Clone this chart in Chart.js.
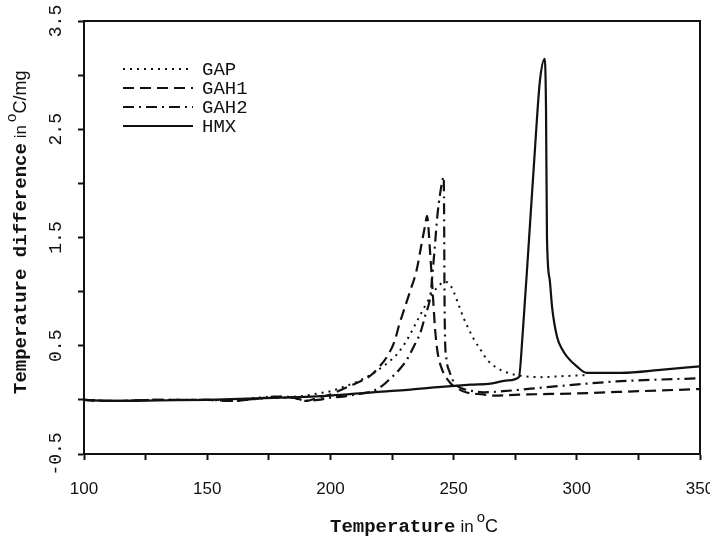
<!DOCTYPE html>
<html>
<head>
<meta charset="utf-8">
<script src="https://cdn.jsdelivr.net/npm/chart.js@4"></script>
<style>
  html, body { margin: 0; padding: 0; background: #fff; }
  #wrap { width: 710px; height: 539px; }
</style>
</head>
<body>
<div id="wrap"><canvas id="dtaChart" width="710" height="539"></canvas></div>
<script>
// DTA curves (x = temperature in C, y = temperature difference in C/mg)
var gapX = [100, 112, 130, 150, 160, 170, 178, 185, 190, 195, 200, 204, 210, 217, 222, 227, 231, 235, 238, 240.5, 243, 246.5, 248, 250, 252, 254, 256, 258, 261, 264, 268, 272, 278, 285, 295, 305];
var gapY = [0, -0.01, 0, 0, 0, 0.02, 0.03, 0.03, 0.04, 0.06, 0.08, 0.11, 0.16, 0.24, 0.32, 0.42, 0.55, 0.72, 0.85, 0.95, 1.03, 1.09, 1.08, 1.0, 0.88, 0.76, 0.66, 0.57, 0.46, 0.36, 0.29, 0.25, 0.22, 0.21, 0.22, 0.23];

var gah1X = [100, 112, 130, 150, 160, 170, 178, 185, 190, 195, 200, 204, 208, 212, 216, 220, 223, 226, 228, 230, 232.3, 235, 237, 238.5, 239.2, 240.5, 241.5, 242.5, 243.5, 245, 248.5, 252, 255, 262, 266, 280, 300, 325, 350];
var gah1Y = [0, -0.01, 0, 0, -0.01, 0.01, 0.03, 0.02, -0.01, 0.02, 0.05, 0.09, 0.13, 0.17, 0.22, 0.31, 0.40, 0.54, 0.70, 0.84, 1.0, 1.2, 1.44, 1.62, 1.70, 1.35, 1.0, 0.65, 0.44, 0.30, 0.16, 0.10, 0.07, 0.05, 0.04, 0.05, 0.06, 0.08, 0.10];

var gah2X = [100, 112, 130, 150, 160, 170, 178, 185, 190, 195, 200, 205, 210, 217, 221, 224, 228, 231, 234, 236.5, 238.5, 240.5, 241.5, 242.5, 243.5, 244.5, 245.5, 246, 246.2, 246.3, 246.5, 247, 248.5, 250.5, 253, 258, 262, 270, 289, 316, 350];
var gah2Y = [0, -0.01, 0, 0, -0.01, 0.01, 0.02, 0.02, -0.01, 0.0, 0.02, 0.03, 0.05, 0.08, 0.13, 0.19, 0.28, 0.37, 0.50, 0.62, 0.78, 0.95, 1.18, 1.45, 1.72, 1.9, 2.03, 2.06, 1.5, 1.0, 0.6, 0.40, 0.25, 0.15, 0.11, 0.08, 0.07, 0.08, 0.12, 0.17, 0.20];

var hmxX = [100, 112, 130, 150, 180, 200, 217, 230, 245, 257, 265, 272, 276.5, 278, 280.6, 283, 285, 287, 287.5, 287.9, 289, 290, 292, 294, 296, 300, 304, 318, 335, 350];
var hmxY = [0, -0.01, -0.005, 0, 0.02, 0.04, 0.07, 0.09, 0.12, 0.14, 0.15, 0.18, 0.21, 0.6, 1.48, 2.31, 2.94, 3.15, 2.7, 1.5, 1.11, 0.85, 0.58, 0.47, 0.40, 0.31, 0.25, 0.25, 0.28, 0.31];

var yLabelTicks = [-0.5, 0.5, 1.5, 2.5, 3.5];

function pts(xs, ys) {
    return xs.map(function (x, i) { return { x: x, y: ys[i] }; });
}

var ink = '#111';

// frame, rotated y tick labels, axis titles and the inset legend
var paperPlugin = {
    id: 'paper',
    afterDraw: function (chart) {
        var c = chart.ctx, a = chart.chartArea;
        var ys = chart.scales.y;
        c.save();
        c.strokeStyle = ink;
        c.lineWidth = 2;
        c.strokeRect(a.left, a.top, a.right - a.left, a.bottom - a.top);

        // y tick labels, rotated
        c.fillStyle = ink;
        c.font = '18px "Liberation Mono"';
        c.textAlign = 'center';
        c.textBaseline = 'middle';
        yLabelTicks.forEach(function (v) {
            var py = ys.getPixelForValue(v);
            c.save();
            c.translate(56, py);
            c.rotate(-Math.PI / 2);
            c.fillText(v.toFixed(1), 0, 0);
            c.restore();
        });

        // axis titles
        function title(x, y, rot, main) {
            c.save();
            c.translate(x, y);
            c.rotate(rot);
            c.textAlign = 'left';
            c.textBaseline = 'alphabetic';
            var cx = 0;
            c.font = 'bold 19px "Liberation Mono"';
            c.fillText(main, cx, 0);
            cx += c.measureText(main).width + 5;
            c.font = '17px "Liberation Sans"';
            c.fillText('in', cx, 0);
            cx += c.measureText('in').width + 3;
            c.font = '15px "Liberation Sans"';
            c.fillText('o', cx, -10);
            cx += c.measureText('o').width;
            c.font = '18px "Liberation Sans"';
            c.fillText(rot ? 'C/mg' : 'C', cx, 0);
            c.restore();
        }
        title(330, 532, 0, 'Temperature');
        title(26, 394, -Math.PI / 2, 'Temperature difference');

        // legend
        var rows = [69, 88, 107, 126];
        chart.data.datasets.forEach(function (ds, i) {
            c.strokeStyle = ink;
            c.lineWidth = ds.borderWidth;
            c.setLineDash(ds.borderDash || []);
            c.beginPath();
            c.moveTo(123, rows[i]);
            c.lineTo(193, rows[i]);
            c.stroke();
            c.setLineDash([]);
            c.font = '19px "Liberation Mono"';
            c.textAlign = 'left';
            c.textBaseline = 'middle';
            c.fillText(ds.label, 202, rows[i] + 1);
        });
        c.restore();
    }
};

var ctx = document.getElementById('dtaChart').getContext('2d');
var chart = new Chart(ctx, {
    type: 'line',
    data: {
        datasets: [{
                label: 'GAP',
                data: pts(gapX, gapY),
                borderColor: ink,
                borderWidth: 2,
                borderDash: [2, 5],
                pointRadius: 0,
                cubicInterpolationMode: 'monotone'
            },
            {
                label: 'GAH1',
                data: pts(gah1X, gah1Y),
                borderColor: ink,
                borderWidth: 2.2,
                borderDash: [11, 6],
                pointRadius: 0,
                cubicInterpolationMode: 'monotone'
            },
            {
                label: 'GAH2',
                data: pts(gah2X, gah2Y),
                borderColor: ink,
                borderWidth: 2.2,
                borderDash: [11, 5, 2, 5],
                pointRadius: 0,
                cubicInterpolationMode: 'monotone'
            },
            {
                label: 'HMX',
                data: pts(hmxX, hmxY),
                borderColor: ink,
                borderWidth: 2.2,
                pointRadius: 0,
                cubicInterpolationMode: 'monotone'
            }
        ]
    },
    options: {
        responsive: false,
        animation: false,
        layout: { padding: { top: 21, right: 10, left: 0, bottom: 0 } },
        plugins: {
            legend: { display: false },
            tooltip: { enabled: false }
        },
        scales: {
            x: {
                type: 'linear',
                min: 100,
                max: 350,
                grid: { drawOnChartArea: false, color: ink, tickLength: 6, tickWidth: 2 },
                border: { color: ink, width: 2 },
                ticks: {
                    stepSize: 25,
                    maxRotation: 0,
                    autoSkip: false,
                    padding: 19,
                    color: ink,
                    font: { family: 'Liberation Sans', size: 17 },
                    callback: function (v) { return v % 50 === 0 ? v : ''; }
                },
                afterFit: function (s) {
                    s.height = 85;
                    s.paddingLeft = 0;
                    s.paddingRight = 0;
                }
            },
            y: {
                min: -0.5,
                max: 3.5,
                grid: { drawOnChartArea: false, color: ink, tickLength: 6, tickWidth: 2 },
                border: { color: ink, width: 2 },
                ticks: { stepSize: 0.5, display: false },
                afterFit: function (s) {
                    s.width = 84;
                    s.paddingTop = 0;
                    s.paddingBottom = 0;
                }
            }
        }
    },
    plugins: [paperPlugin]
});
</script>
</body>
</html>
